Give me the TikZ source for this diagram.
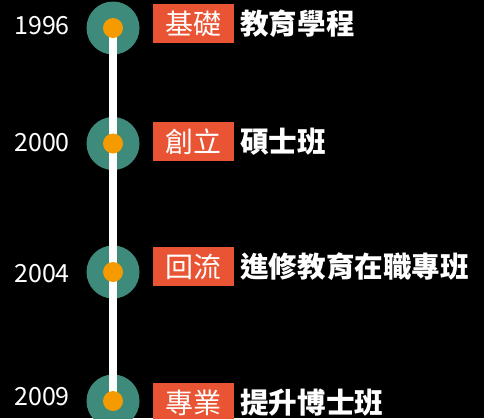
\documentclass[tikz,border=0pt]{standalone}
\usepackage{fontspec}
\newfontfamily\cjk{Noto Sans CJK TC}
\definecolor{teal}{HTML}{3E8A7B}
\definecolor{dotorange}{HTML}{F59B00}
\definecolor{boxred}{HTML}{E95534}
\begin{document}
\begin{tikzpicture}[x=1pt,y=-1pt,
  ring/.style={circle,fill=teal,minimum size=53pt,inner sep=0pt},
  dot/.style={circle,fill=dotorange,minimum size=20pt,inner sep=0pt},
  year/.style={anchor=base,text=white,inner sep=0pt,font=\cjk\fontsize{25}{25}\selectfont},
  tagbox/.style={anchor=north west,fill=boxred,minimum width=81pt,minimum height=39pt,inner sep=0pt},
  tagtext/.style={anchor=base,text=white,inner sep=0pt,font=\cjk\fontsize{28}{28}\selectfont},
  desc/.style={anchor=base west,text=white,inner sep=0pt,font=\cjk\bfseries\fontsize{28.6}{28.6}\selectfont},
  spine/.style={draw=white,line width=8pt}]
\fill[black] (0,0) rectangle (484,418);
\useasboundingbox (0,0) rectangle (484,418);
% rings
\node[ring] (r1) at (113,28) {};
\node[ring] (r2) at (113,143.5) {};
\node[ring] (r3) at (113,272) {};
\node[ring] (r4) at (113,401) {};
\draw[spine] (r1.center) -- (r4.center);
\node[dot] (d1) at (r1.center) {};
\node[dot] (d2) at (r2.center) {};
\node[dot] (d3) at (r3.center) {};
\node[dot] (d4) at (r4.center) {};
% years
\node[year] (y1) at (42,34) {1996};
\node[year] (y2) at (42,151) {2000};
\node[year] (y3) at (42,282) {2004};
\node[year] (y4) at (42,405) {2009};
% tag boxes
\node[tagbox] (b1) at (153,4) {};
\node[tagbox] (b2) at (153,122) {};
\node[tagbox] (b3) at (153,247) {};
\node[tagbox] (b4) at (153,383) {};
\node[tagtext] (t1) at (193.5,34) {基礎};
\node[tagtext] (t2) at (193.5,152) {創立};
\node[tagtext] (t3) at (193.5,277) {回流};
\node[tagtext] (t4) at (193.5,413) {專業};
% descriptions
\node[desc] (e1) at (240,34) {教育學程};
\node[desc] (e2) at (240,152) {碩士班};
\node[desc] (e3) at (240,277) {進修教育在職專班};
\node[desc] (e4) at (240,413) {提升博士班};
\end{tikzpicture}
\end{document}
